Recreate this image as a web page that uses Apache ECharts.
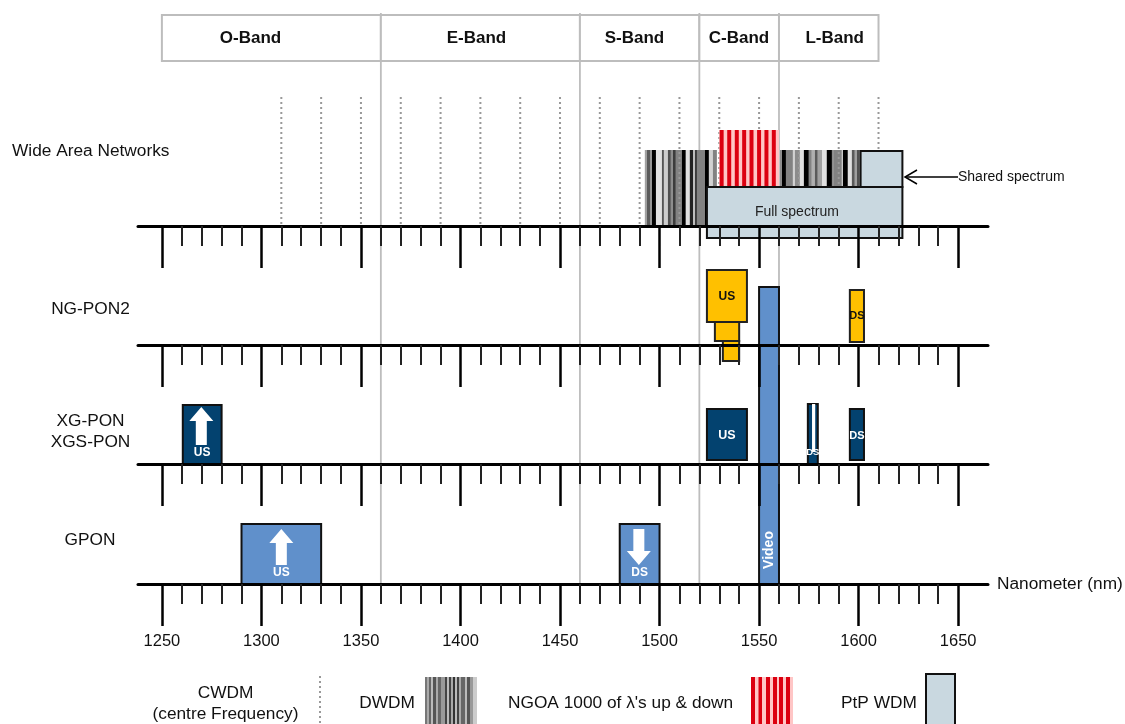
<!DOCTYPE html>
<html>
<head>
<meta charset="utf-8">
<script src="https://cdn.jsdelivr.net/npm/echarts@6/dist/echarts.min.js"></script>
<style>html,body{margin:0;padding:0;background:#fff;overflow:hidden}#c{width:1125px;height:724px}</style>
</head>
<body>
<div id="c"></div>
<script>
// ---- data ----
const majorTicks = [1250,1300,1350,1400,1450,1500,1550,1600,1650];
const minorTicks = [1260,1270,1280,1290,1310,1320,1330,1340,1360,1370,1380,1390,1410,1420,1430,1440,1460,1470,1480,1490,1510,1520,1530,1540,1560,1570,1580,1590,1610,1620,1630,1640];
const bandNames = ['O-Band','E-Band','S-Band','C-Band','L-Band'];
const bandEdges = [[1250,1360],[1360,1460],[1460,1520],[1520,1560],[1560,1610]];
const bandLabelNm = [1294.5,1408,1487.4,1539.9,1588];
const cwdmCentres = [1310,1330,1350,1370,1390,1410,1430,1450,1470,1490,1510,1530,1550,1570,1590,1610];
// [from nm, to nm, grey shade]
const dwdmStripes = [
[1492.6,1493.6,160],[1493.6,1495.2,90],[1495.2,1496.2,150],[1496.2,1498.2,0],[1498.2,1501.2,225],[1501.2,1502.2,85],
[1502.2,1504.2,205],[1504.2,1505.7,80],[1505.7,1506.7,140],[1506.7,1508.2,60],[1508.2,1511.2,130],[1511.2,1513.2,0],
[1513.2,1515.2,225],[1515.2,1516.8,34],[1516.8,1517.8,190],[1517.8,1518.8,60],[1518.8,1522.8,130],[1522.8,1524.8,0],
[1524.8,1526.8,210],[1526.8,1528.8,130],
[1560.5,1561.5,140],[1561.5,1563.5,0],[1563.5,1567,130],[1567,1568,210],[1568,1570.5,140],[1570.5,1572.5,225],
[1572.5,1575,0],[1575,1576.5,130],[1576.5,1578,175],[1578,1579.5,90],[1579.5,1581.6,160],[1581.6,1584,225],
[1584,1586.6,0],[1586.6,1587.6,140],[1587.6,1591.6,130],[1591.6,1592.1,225],[1592.1,1594.6,0],[1594.6,1596.6,225],
[1596.6,1598.1,90],[1598.1,1599.1,160],[1599.1,1600.6,80],[1600.6,1601.6,190]
];
const ngoaBackground = [[1530,1560]];
const ngoaStripes = [[1530.2,1532.2],[1534,1536],[1537.8,1539.8],[1541.5,1543.5],[1545.2,1547.2],[1549,1551],[1552.7,1554.7],[1556.4,1558.4]];
// [from nm, to nm, top level, bottom level, label, label level, label nm, label size]
const fullSpectrum = [[1523.8,1622,39,-12,'Full spectrum',14,1569,14]];
const sharedSpectrum = [[1601,1622,75,39]];
const ngPon2Bands = [[1531.8,1540,4,-16],[1527.8,1540,23,4],[1523.8,1543.9,75,23,'US',48,null,12],[1595.6,1602.7,55,3,'DS',29,null,11]];
const xgPonBands = [[1260.5,1280,59,0,'US',11,null,12],[1523.8,1543.9,55,4,'US',28,null,12.5],[1574.5,1579.5,60,0,'DS',12,null,9.5],[1595.6,1602.7,55,4,'DS',28,null,11]];
const xgPonGap = [[1576.6,1578.2,60,12]];
const gponBands = [[1290,1330,60,0,'US',11,null,12],[1480,1500,60,0,'DS',11,null,12]];
const videoBand = [[1550,1560,297,0,'Video',34,null,14]];
// [centre nm, tail level, tip level]
const xgPonArrows = [[1269.8,19,57]];
const gponArrows = [[1310,19,55],[1489.6,55,19]];
const rowNames = ['Wide Area Networks','NG-PON2','XG-PON','XGS-PON','GPON'];
const legendDwdm = [[425,427,'#777'],[427,429,'#aaa'],[429,431,'#666'],[431,433,'#bbb'],[433,436,'#555'],[436,438,'#aaa'],[438,441,'#666'],[441,445,'#999'],[445,447,'#444'],[447,449,'#bbb'],[449,451,'#444'],[451,453,'#aaa'],[453,455,'#333'],[455,457,'#bbb'],[457,459,'#444'],[459,461,'#aaa'],[461,465,'#666'],[465,467,'#bbb'],[467,470,'#555'],[470,473,'#999'],[473,477,'#ccc']];
const legendNgoa = [[751,755],[758.5,762],[766,770],[773,777],[779,783],[786,790]];

// ---- layout ----
const axisY = [226,345,464,584];
const xMin = 1238, xMax = 1665, gridLeft = 138, gridWidth = 850, rowH = 100;
const ink = '#111', greyLine = '#bdbdbd', ptp = '#c9d8e0', amber = '#ffc000', navy = '#03426f', blue = '#6090cb', red = '#dc0010', pink = '#ffc6c6';
const font = '"Liberation Sans", Arial, sans-serif';
const textSize = 17.3;

const grid = [], xAxis = [], yAxis = [], series = [];
axisY.forEach((y, i) => {
  grid.push({left: gridLeft, width: gridWidth, top: y - rowH, height: rowH});
  const last = i === axisY.length - 1;
  xAxis.push({
    type: 'value', gridIndex: i, min: xMin, max: xMax, position: 'bottom', zlevel: 1,
    splitLine: {show: false},
    axisLine: {show: true, onZero: false, lineStyle: {color: '#000', width: 3}},
    axisTick: {show: true, length: 42, customValues: majorTicks, lineStyle: {color: '#000', width: 2.5}},
    axisLabel: {show: last, customValues: majorTicks, margin: 49, fontSize: 16.5, color: ink, fontFamily: font,
      formatter: v => String(v), showMinLabel: true, showMaxLabel: true, hideOverlap: false},
    name: last ? 'Nanometer (nm)' : '', nameLocation: 'end', nameGap: 9,
    nameTextStyle: {fontSize: textSize, color: ink, fontFamily: font}
  });
  xAxis.push({
    type: 'value', gridIndex: i, min: xMin, max: xMax, position: 'bottom', zlevel: 1,
    splitLine: {show: false},
    axisLine: {show: false, onZero: false},
    axisTick: {show: true, length: 20, customValues: minorTicks, lineStyle: {color: '#222', width: 2}},
    axisLabel: {show: false}
  });
  yAxis.push({type: 'value', gridIndex: i, min: 0, max: rowH, show: false});
});

function rectSeries(row, rows, fill, stroke, lineWidth, textColor, fontWeight, z, rotate) {
  return {
    type: 'custom', coordinateSystem: 'cartesian2d', xAxisIndex: row * 2, yAxisIndex: row, z, silent: true,
    data: rows.map(r => r.slice(0, 4)),
    renderItem(params, api) {
      const r = rows[params.dataIndex];
      const a = api.coord([r[0], r[2]]), b = api.coord([r[1], r[3]]);
      const children = [{type: 'rect', shape: {x: a[0], y: a[1], width: b[0] - a[0], height: b[1] - a[1]},
        style: {fill, stroke, lineWidth}}];
      if (r[4]) {
        const c = api.coord([r[6] != null ? r[6] : (r[0] + r[1]) / 2, r[5]]);
        children.push({type: 'text', x: c[0], y: c[1], rotation: rotate || 0,
          style: {text: r[4], fill: textColor, font: fontWeight + ' ' + r[7] + 'px ' + font, align: 'center', verticalAlign: 'middle'}});
      }
      return {type: 'group', children};
    }
  };
}
function stripeSeries(row, rows, top, bottom, colorOf, z) {
  return {
    type: 'custom', coordinateSystem: 'cartesian2d', xAxisIndex: row * 2, yAxisIndex: row, z, silent: true,
    data: rows.map(r => r.slice(0, 2)),
    renderItem(params, api) {
      const r = rows[params.dataIndex];
      const a = api.coord([r[0], top]), b = api.coord([r[1], bottom]);
      return {type: 'rect', shape: {x: a[0], y: a[1], width: b[0] - a[0], height: b[1] - a[1]}, style: {fill: colorOf(r)}};
    }
  };
}
function vLineSeries(row, values, top, bottom, color, width, dash, z) {
  return {
    type: 'custom', coordinateSystem: 'cartesian2d', xAxisIndex: row * 2, yAxisIndex: row, z, silent: true,
    data: values.map(v => [v, top]),
    renderItem(params, api) {
      const a = api.coord([api.value(0), top]), b = api.coord([api.value(0), bottom]);
      return {type: 'line', shape: {x1: a[0], y1: a[1], x2: b[0], y2: b[1]}, style: {stroke: color, lineWidth: width, lineDash: dash || null}};
    }
  };
}
function arrowSeries(row, rows, z) {
  return {
    type: 'custom', coordinateSystem: 'cartesian2d', xAxisIndex: row * 2, yAxisIndex: row, z, silent: true,
    data: rows,
    renderItem(params, api) {
      const t = api.coord([api.value(0), api.value(1)]), p = api.coord([api.value(0), api.value(2)]);
      const d = p[1] < t[1] ? 14 : -14, hs = 5.5, hh = 12, base = p[1] + d;
      return {type: 'polygon', shape: {points: [[p[0], p[1]], [p[0] + hh, base], [p[0] + hs, base], [p[0] + hs, t[1]], [p[0] - hs, t[1]], [p[0] - hs, base], [p[0] - hh, base]]}, style: {fill: '#fff'}};
    }
  };
}
// band header (drawn on first row)
const headerRows = bandEdges.map(e => [e[0], e[1], 211, 165]);
series.push({
  type: 'custom', coordinateSystem: 'cartesian2d', xAxisIndex: 0, yAxisIndex: 0, z: 2, silent: true,
  data: headerRows,
  renderItem(params, api) {
    const r = headerRows[params.dataIndex];
    const a = api.coord([r[0], r[2]]), b = api.coord([r[1], r[3]]);
    const c = api.coord([bandLabelNm[params.dataIndex], 188]);
    return {type: 'group', children: [
      {type: 'rect', shape: {x: a[0], y: a[1], width: b[0] - a[0], height: b[1] - a[1]}, style: {fill: '#fff', stroke: greyLine, lineWidth: 2}},
      {type: 'text', x: c[0], y: c[1], style: {text: bandNames[params.dataIndex], fill: ink, font: 'bold 17px ' + font, align: 'center', verticalAlign: 'middle'}}
    ]};
  }
});
series.push(vLineSeries(3, [1360,1460,1520,1560], 571, 0, greyLine, 1.8, null, 1));
series.push(stripeSeries(0, dwdmStripes, 76, 0, r => 'rgb(' + r[2] + ',' + r[2] + ',' + r[2] + ')', 3));
series.push(vLineSeries(0, cwdmCentres, 129, 0, '#999', 2, [2, 3], 4));
series.push(stripeSeries(0, ngoaBackground, 96, 39, () => pink, 5));
series.push(stripeSeries(0, ngoaStripes, 96, 39, () => red, 5));
series.push(rectSeries(0, fullSpectrum, ptp, '#111', 2, '#222', 'normal', 6));
series.push(rectSeries(0, sharedSpectrum, ptp, '#111', 2, '#222', 'normal', 6));
series.push(rectSeries(1, ngPon2Bands, amber, '#222', 2, '#111', 'bold', 6));
series.push(rectSeries(2, xgPonBands, navy, '#111', 2, '#fff', 'bold', 6));
series.push(rectSeries(2, xgPonGap, '#fff', null, 0, '#fff', 'bold', 7));
series.push(arrowSeries(2, xgPonArrows, 8));
series.push(rectSeries(3, gponBands, blue, '#111', 2, '#fff', 'bold', 6));
series.push(arrowSeries(3, gponArrows, 8));
series.push(rectSeries(3, videoBand, blue, '#111', 2, '#fff', 'bold', 6, Math.PI / 2));

const tx = (text, x, y, size, align) => ({type: 'text', x, y, z: 20, silent: true,
  style: {text, fill: ink, font: (size || textSize) + 'px ' + font, align: align || 'left', verticalAlign: 'middle'}});
const graphicEls = [
  tx(rowNames[0], 12, 151),
  tx(rowNames[1], 90.5, 309, textSize, 'center'),
  tx(rowNames[2], 90.5, 421, textSize, 'center'),
  tx(rowNames[3], 90.5, 442, textSize, 'center'),
  tx(rowNames[4], 90, 540, textSize, 'center'),
  tx('Shared spectrum', 958, 177, 14),
  {type: 'line', z: 20, silent: true, shape: {x1: 906, y1: 177, x2: 958, y2: 177}, style: {stroke: '#000', lineWidth: 1.5}},
  {type: 'polyline', z: 20, silent: true, shape: {points: [[917, 170], [905, 177], [917, 184]]}, style: {stroke: '#000', lineWidth: 1.5, fill: null}},
  tx('CWDM', 225.5, 693, textSize, 'center'),
  tx('(centre Frequency)', 225.5, 714, textSize, 'center'),
  {type: 'line', z: 20, silent: true, shape: {x1: 320, y1: 676, x2: 320, y2: 724}, style: {stroke: '#999', lineWidth: 2, lineDash: [2, 3]}},
  tx('DWDM', 387, 703, textSize, 'center'),
  tx("NGOA 1000 of \u03bb's up & down", 508, 703),
  tx('PtP WDM', 841, 703),
  {type: 'rect', z: 20, silent: true, shape: {x: 926, y: 674, width: 29, height: 52}, style: {fill: ptp, stroke: '#111', lineWidth: 2}},
  {type: 'rect', z: 20, silent: true, shape: {x: 751, y: 677, width: 42, height: 47}, style: {fill: pink}}
];
legendDwdm.forEach(s => graphicEls.push({type: 'rect', z: 20, silent: true, shape: {x: s[0], y: 677, width: s[1] - s[0], height: 47}, style: {fill: s[2]}}));
legendNgoa.forEach(s => graphicEls.push({type: 'rect', z: 21, silent: true, shape: {x: s[0], y: 677, width: s[1] - s[0], height: 47}, style: {fill: red}}));

const chart = echarts.init(document.getElementById('c'));
chart.setOption({
  animation: false, backgroundColor: '#fff', textStyle: {fontFamily: font},
  grid, xAxis, yAxis, series,
  graphic: {elements: graphicEls}
});
</script>
</body>
</html>
